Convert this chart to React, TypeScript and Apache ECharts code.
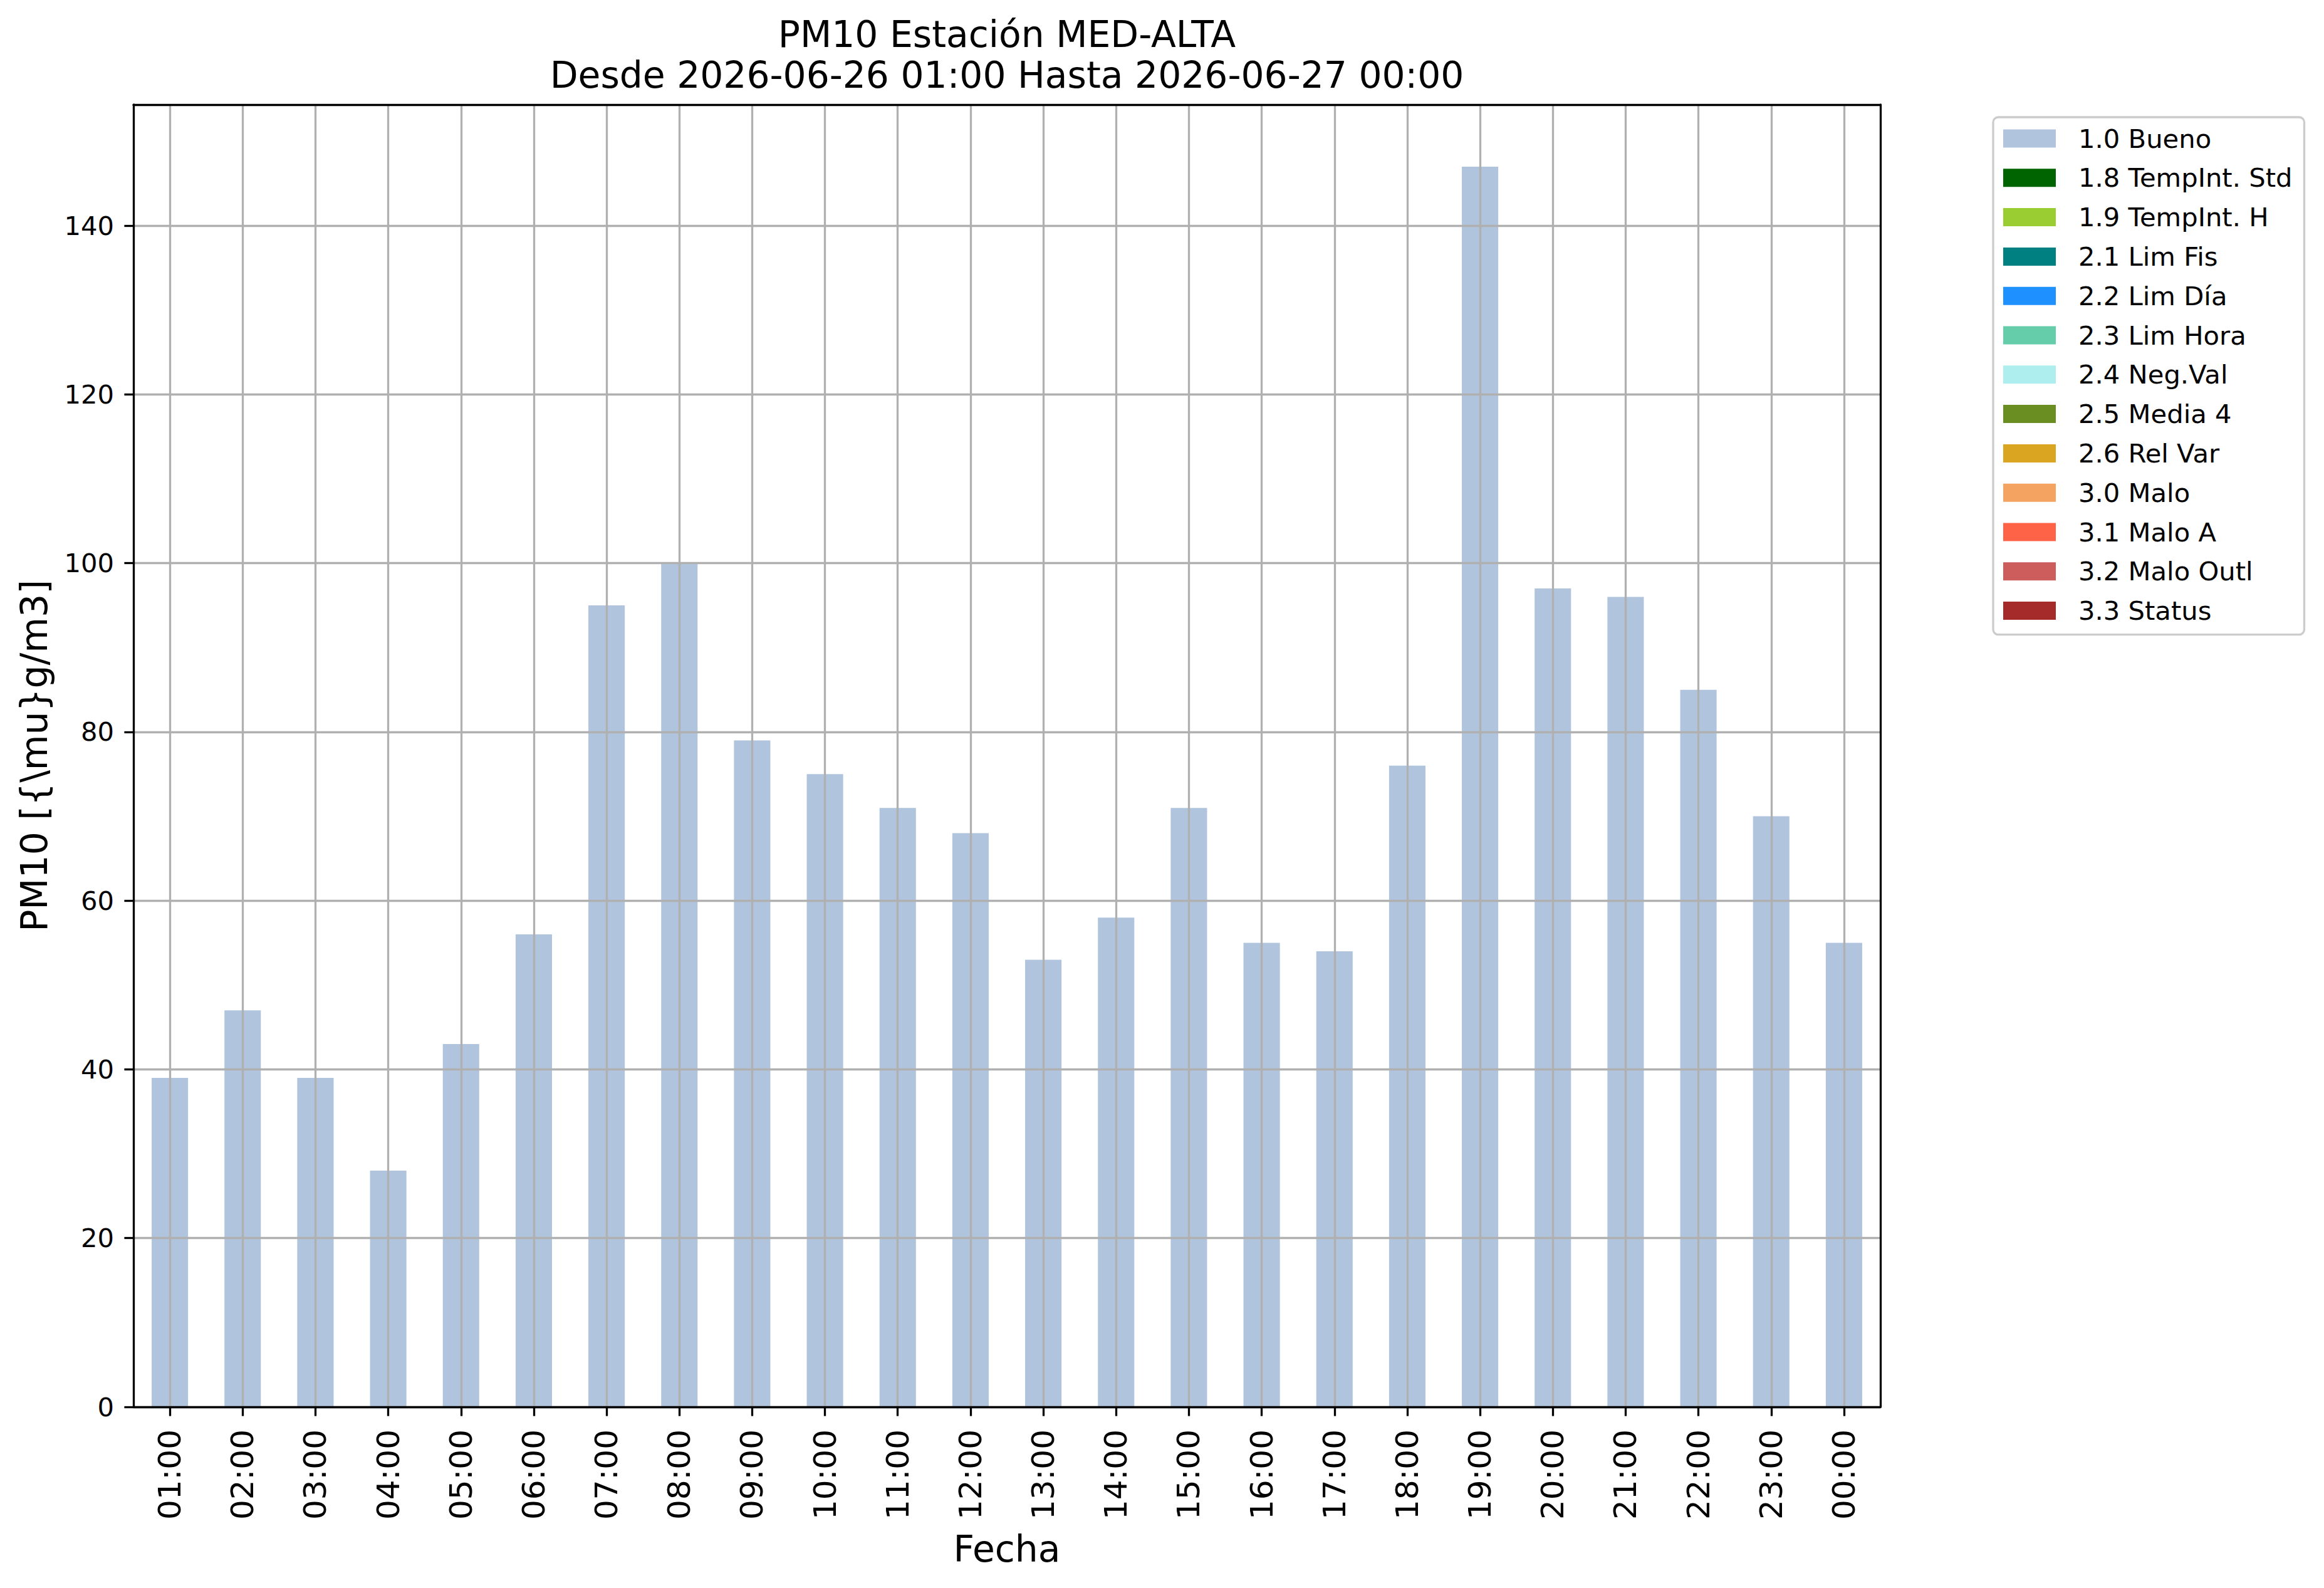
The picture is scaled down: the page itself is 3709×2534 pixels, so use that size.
import React, { useEffect, useRef } from "react";
import * as echarts from "echarts";

const categories = [
  "01:00", "02:00", "03:00", "04:00", "05:00", "06:00", "07:00", "08:00",
  "09:00", "10:00", "11:00", "12:00", "13:00", "14:00", "15:00", "16:00",
  "17:00", "18:00", "19:00", "20:00", "21:00", "22:00", "23:00", "00:00",
];

const buenoValues = [
  39, 47, 39, 28, 43, 56, 95, 100, 79, 75, 71, 68,
  53, 58, 71, 55, 54, 76, 147, 97, 96, 85, 70, 55,
];

const legendNames = [
  "1.0 Bueno", "1.8 TempInt. Std", "1.9 TempInt. H", "2.1 Lim Fis", "2.2 Lim Día",
  "2.3 Lim Hora", "2.4 Neg.Val", "2.5 Media 4", "2.6 Rel Var", "3.0 Malo",
  "3.1 Malo A", "3.2 Malo Outl", "3.3 Status",
];

const legendColors = [
  "#B0C4DE", "#006400", "#9ACD32", "#008080", "#1E90FF", "#66CDAA", "#AFEEEE",
  "#6B8E23", "#DAA520", "#F4A460", "#FF6347", "#CD5C5C", "#A52A2A",
];

const yTicks = [0, 20, 40, 60, 80, 100, 120, 140];
const yMin = 0;
const yMax = 154.35;

const titleLine1 = "PM10 Estación MED-ALTA";
const titleLine2 = "Desde 2026-06-26 01:00 Hasta 2026-06-27 00:00";
const xLabel = "Fecha";
const yLabel = "PM10 [{\\mu}g/m3]";

const FONT = "DejaVu Sans";
const GRID = { left: 213, top: 167, width: 2788, height: 2078 };
const LW = 3.3;

export default function App() {
  const ref = useRef<HTMLDivElement>(null);

  useEffect(() => {
    if (!ref.current) return;
    const chart = echarts.init(ref.current, null, { renderer: "svg" });

    const series: any[] = legendNames.map((name, i) => {
      const s: any = {
        name,
        type: "bar",
        stack: "total",
        barWidth: "50%",
        xAxisIndex: 0,
        yAxisIndex: 0,
        z: 2,
        itemStyle: { color: legendColors[i] },
        emphasis: { disabled: true },
        data: i === 0 ? buenoValues : [],
      };
      if (i === 0) {
        s.markLine = {
          silent: true,
          symbol: ["none", "none"],
          label: { show: false },
          z: 5,
          animation: false,
          lineStyle: { color: "#b0b0b0", width: LW, type: "solid" },
          emphasis: { disabled: true },
          data: categories.map((c) => ({ xAxis: c })),
        };
      }
      return s;
    });

    const cx = GRID.left + GRID.width / 2;
    const cy = GRID.top + GRID.height / 2;

    chart.setOption({
      animation: false,
      backgroundColor: "#ffffff",
      textStyle: { fontFamily: FONT },
      grid: { ...GRID, containLabel: false },
      legend: {
        orient: "vertical",
        left: 3181,
        top: 187,
        data: legendNames,
        icon: "rect",
        itemWidth: 84,
        itemHeight: 29,
        itemGap: 20.8,
        selectedMode: false,
        padding: [13, 19, 17, 16],
        borderColor: "#cccccc",
        borderWidth: LW,
        borderRadius: 8,
        backgroundColor: "rgba(255,255,255,0.8)",
        textStyle: {
          fontFamily: FONT,
          fontSize: 41.7,
          lineHeight: 42,
          color: "#000000",
          padding: [0, 0, 0, 31],
        },
      },
      xAxis: [
        {
          type: "category",
          data: categories,
          position: "bottom",
          z: 6,
          axisLine: { show: true, onZero: false, lineStyle: { color: "#000", width: LW } },
          axisTick: {
            show: true,
            alignWithLabel: true,
            length: 14.6,
            lineStyle: { color: "#000", width: LW },
          },
          axisLabel: {
            rotate: 90,
            margin: 36,
            fontSize: 50,
            fontFamily: FONT,
            color: "#000",
            interval: 0,
          },
          splitLine: { show: false },
        },
        {
          type: "category",
          data: categories,
          position: "top",
          z: 6,
          axisLine: { show: true, onZero: false, lineStyle: { color: "#000", width: LW } },
          axisTick: { show: false },
          axisLabel: { show: false },
          splitLine: { show: false },
        },
      ],
      yAxis: [
        {
          type: "value",
          min: yMin,
          max: yMax,
          interval: 20,
          position: "left",
          z: 3,
          axisLine: { show: true, onZero: false, lineStyle: { color: "#000", width: LW } },
          axisTick: {
            show: true,
            length: 14.6,
            customValues: yTicks,
            lineStyle: { color: "#000", width: LW },
          },
          axisLabel: {
            margin: 31,
            fontSize: 41.7,
            fontFamily: FONT,
            color: "#000",
            customValues: yTicks,
          },
          splitLine: { show: true, lineStyle: { color: "#b0b0b0", width: LW } },
        },
        {
          type: "value",
          min: yMin,
          max: yMax,
          position: "right",
          z: 6,
          axisLine: { show: true, onZero: false, lineStyle: { color: "#000", width: LW } },
          axisTick: { show: false },
          axisLabel: { show: false },
          splitLine: { show: false },
        },
      ],
      graphic: [
        {
          type: "text",
          x: cx,
          y: 55,
          style: {
            text: titleLine1,
            fontFamily: FONT,
            fontSize: 58.3,
            fill: "#000",
            textAlign: "center",
            textVerticalAlign: "middle",
          },
        },
        {
          type: "text",
          x: cx,
          y: 120,
          style: {
            text: titleLine2,
            fontFamily: FONT,
            fontSize: 58.3,
            fill: "#000",
            textAlign: "center",
            textVerticalAlign: "middle",
          },
        },
        {
          type: "text",
          x: cx,
          y: 2472,
          style: {
            text: xLabel,
            fontFamily: FONT,
            fontSize: 58.3,
            fill: "#000",
            textAlign: "center",
            textVerticalAlign: "middle",
          },
        },
        {
          type: "text",
          x: 55,
          y: cy,
          rotation: Math.PI / 2,
          style: {
            text: yLabel,
            fontFamily: FONT,
            fontSize: 58.3,
            fill: "#000",
            textAlign: "center",
            textVerticalAlign: "middle",
          },
        },
      ],
      series,
    });

    return () => {
      chart.dispose();
    };
  }, []);

  return (
    <div
      ref={ref}
      style={{ position: "absolute", left: 0, top: 0, width: 3709, height: 2534 }}
    />
  );
}
